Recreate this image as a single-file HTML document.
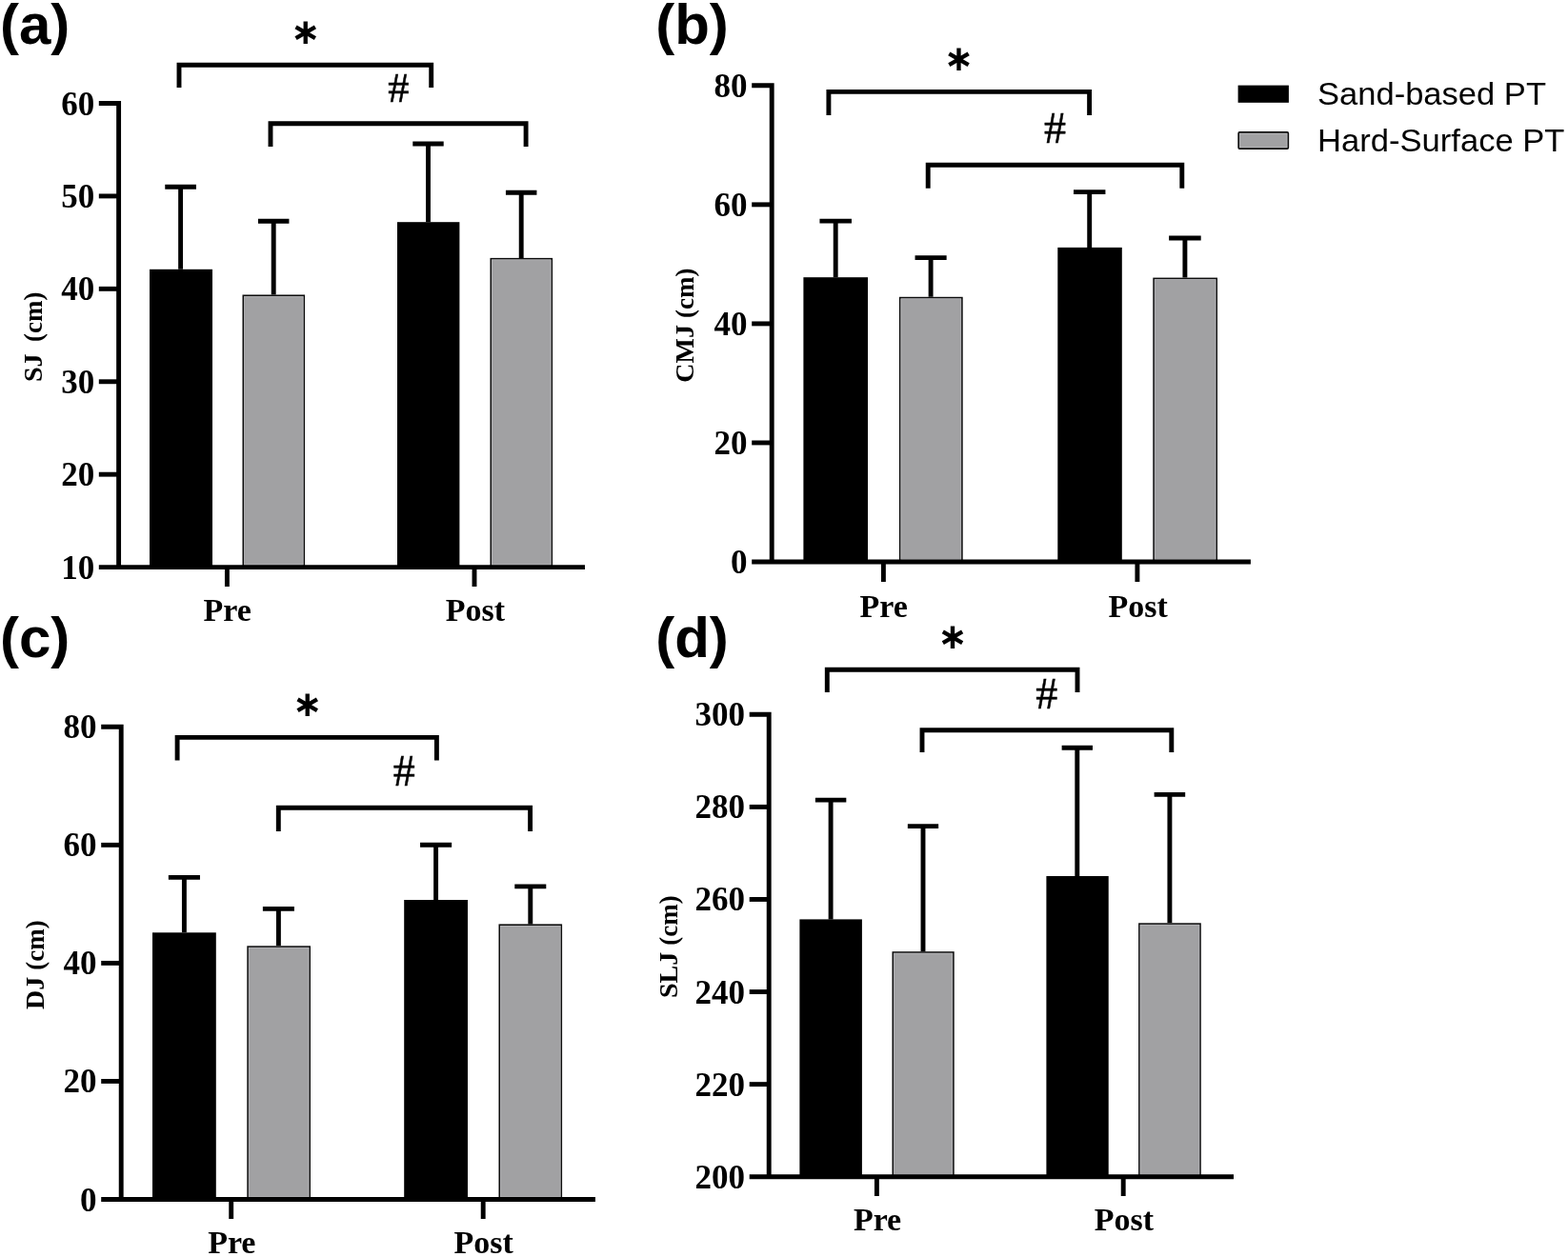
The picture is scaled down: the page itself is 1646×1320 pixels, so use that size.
<!DOCTYPE html>
<html><head><meta charset="utf-8"><title>Figure</title>
<style>
html,body{margin:0;padding:0;background:#fff;}
body{width:1646px;height:1320px;overflow:hidden;}
svg{display:block;}
.ln{fill:none;stroke:#000;stroke-width:4.9;stroke-linejoin:miter;stroke-linecap:butt;}
.plab{font-family:'Liberation Sans', Arial, sans-serif;font-weight:bold;font-size:60px;}
.tick{font-family:'Liberation Serif', 'Times New Roman', serif;font-weight:bold;font-size:35px;text-anchor:end;}
.xlab{font-family:'Liberation Serif', 'Times New Roman', serif;font-weight:bold;font-size:34px;text-anchor:middle;}
.ylab{font-family:'Liberation Serif', 'Times New Roman', serif;font-weight:bold;font-size:28px;text-anchor:middle;}
.cm{font-size:27px;}
.star{font-family:'DejaVu Sans',sans-serif;font-weight:bold;font-size:37.5px;text-anchor:middle;}
.hash{font-family:'Liberation Serif', 'Times New Roman', serif;font-size:46px;text-anchor:middle;stroke:#000;stroke-width:0.5px;}
.leg{font-family:'Liberation Sans', Arial, sans-serif;font-size:33.5px;}
</style></head>
<body>
<svg width="1646" height="1320" viewBox="0 0 1646 1320">
<rect width="1646" height="1320" fill="#fff"/>
<g id="panel-a">
<text x="0" y="46.4" class="plab">(a)</text>
<rect x="157" y="282.8" width="66" height="312.8" fill="#000"/>
<rect x="255.3" y="310.3" width="64" height="285.3" fill="#a1a1a3" stroke="#0d0d0d" stroke-width="1.6"/>
<rect x="256.5" y="311.5" width="61.6" height="281.6" fill="none" stroke="#b4b4b7" stroke-width="0.8"/>
<rect x="417" y="233.2" width="65.4" height="362.4" fill="#000"/>
<rect x="515.3" y="271.7" width="64" height="323.9" fill="#a1a1a3" stroke="#0d0d0d" stroke-width="1.6"/>
<rect x="516.5" y="272.9" width="61.6" height="320.2" fill="none" stroke="#b4b4b7" stroke-width="0.8"/>
<path d="M189.6 282.8V196.2M173.25 196.2H205.95" class="ln"/>
<path d="M287.2 309.5V232.2M270.95 232.2H303.45" class="ln"/>
<path d="M449.5 233.2V151M433.3 151H465.7" class="ln"/>
<path d="M547.2 270.9V202.3M530.95 202.3H563.45" class="ln"/>
<path d="M103.8 108.5H124.6V595.6" class="ln"/>
<path d="M103.8 595.6H614" class="ln"/>
<path d="M103.8 498.18H124.6" class="ln"/>
<path d="M103.8 400.76H124.6" class="ln"/>
<path d="M103.8 303.34H124.6" class="ln"/>
<path d="M103.8 205.92H124.6" class="ln"/>
<text x="99.2" y="607.6" class="tick">10</text>
<text x="99.2" y="510.18" class="tick">20</text>
<text x="99.2" y="412.76" class="tick">30</text>
<text x="99.2" y="315.34" class="tick">40</text>
<text x="99.2" y="217.92" class="tick">50</text>
<text x="99.2" y="120.5" class="tick">60</text>
<path d="M238.4 595.6V616" class="ln"/>
<path d="M498 595.6V616" class="ln"/>
<text x="238.75" y="652" class="xlab">Pre</text>
<text x="498.85" y="652" class="xlab">Post</text>
<path d="M188 92V68.3H452.7V92" class="ln"/>
<path d="M284 154.1V129.8H552.1V154.1" class="ln"/>
<text x="320.7" y="46.44" class="star">&#8727;</text>
<text x="418.25" y="106.7" class="hash" style="font-size:44.5px">#</text>
<text transform="translate(44.3 353.7) rotate(-90)" class="ylab">SJ <tspan dx="5.5" class="cm">(cm)</tspan></text>
</g>
<g id="panel-b">
<text x="688.2" y="46.4" class="plab">(b)</text>
<rect x="843.4" y="291.2" width="67.6" height="298.8" fill="#000"/>
<rect x="944.7" y="312.6" width="65.2" height="277.4" fill="#a1a1a3" stroke="#0d0d0d" stroke-width="1.6"/>
<rect x="945.9" y="313.8" width="62.8" height="273.7" fill="none" stroke="#b4b4b7" stroke-width="0.8"/>
<rect x="1110.3" y="259.9" width="67.5" height="330.1" fill="#000"/>
<rect x="1211.1" y="292.4" width="66.1" height="297.6" fill="#a1a1a3" stroke="#0d0d0d" stroke-width="1.6"/>
<rect x="1212.3" y="293.6" width="63.7" height="293.9" fill="none" stroke="#b4b4b7" stroke-width="0.8"/>
<path d="M877.2 291.2V232.1M860.45 232.1H893.95" class="ln"/>
<path d="M977.1 311.8V270.6M960.55 270.6H993.65" class="ln"/>
<path d="M1143.7 259.9V201.6M1126.98 201.6H1160.42" class="ln"/>
<path d="M1243.9 291.6V250M1227.12 250H1260.68" class="ln"/>
<path d="M789.2 89.8H810.2V590" class="ln"/>
<path d="M789.2 590H1312.9" class="ln"/>
<path d="M789.2 464.95H810.2" class="ln"/>
<path d="M789.2 339.9H810.2" class="ln"/>
<path d="M789.2 214.85H810.2" class="ln"/>
<text x="784.6" y="602" class="tick">0</text>
<text x="784.6" y="476.95" class="tick">20</text>
<text x="784.6" y="351.9" class="tick">40</text>
<text x="784.6" y="226.85" class="tick">60</text>
<text x="784.6" y="101.8" class="tick">80</text>
<path d="M927.4 590V611" class="ln"/>
<path d="M1193.9 590V611" class="ln"/>
<text x="927.75" y="647.5" class="xlab">Pre</text>
<text x="1194.65" y="647.5" class="xlab">Post</text>
<path d="M869.9 120.9V96.4H1143.6V120.9" class="ln"/>
<path d="M974.2 197.8V173.2H1240.8V197.8" class="ln"/>
<text x="1006.5" y="73.94" class="star">&#8727;</text>
<text x="1107.55" y="149.6" class="hash">#</text>
<text transform="translate(727.9 341.6) rotate(-90)" class="ylab">CMJ <tspan dx="0" class="cm">(cm)</tspan></text>
</g>
<g id="panel-c">
<text x="0" y="689.8" class="plab">(c)</text>
<rect x="160" y="979.3" width="66.8" height="280.2" fill="#000"/>
<rect x="260.1" y="994.1" width="65.1" height="265.4" fill="#a1a1a3" stroke="#0d0d0d" stroke-width="1.6"/>
<rect x="261.3" y="995.3" width="62.7" height="261.7" fill="none" stroke="#b4b4b7" stroke-width="0.8"/>
<rect x="424.2" y="945" width="66.8" height="314.5" fill="#000"/>
<rect x="524.3" y="971.2" width="65" height="288.3" fill="#a1a1a3" stroke="#0d0d0d" stroke-width="1.6"/>
<rect x="525.5" y="972.4" width="62.6" height="284.6" fill="none" stroke="#b4b4b7" stroke-width="0.8"/>
<path d="M193.4 979.3V921.4M176.85 921.4H209.95" class="ln"/>
<path d="M292.4 993.3V954.4M275.88 954.4H308.92" class="ln"/>
<path d="M457.6 945V887.3M441.05 887.3H474.15" class="ln"/>
<path d="M556.8 970.4V930.9M540.3 930.9H573.3" class="ln"/>
<path d="M106.2 763.3H127.2V1259.5" class="ln"/>
<path d="M106.2 1259.5H625" class="ln"/>
<path d="M106.2 1135.45H127.2" class="ln"/>
<path d="M106.2 1011.4H127.2" class="ln"/>
<path d="M106.2 887.35H127.2" class="ln"/>
<text x="101.6" y="1271.5" class="tick">0</text>
<text x="101.6" y="1147.45" class="tick">20</text>
<text x="101.6" y="1023.4" class="tick">40</text>
<text x="101.6" y="899.35" class="tick">60</text>
<text x="101.6" y="775.3" class="tick">80</text>
<path d="M242.7 1259.5V1280" class="ln"/>
<path d="M507.2 1259.5V1280" class="ln"/>
<text x="243.3" y="1316.1" class="xlab">Pre</text>
<text x="507.75" y="1316.1" class="xlab">Post</text>
<path d="M186.1 798.5V774.4H458.4V798.5" class="ln"/>
<path d="M292.3 873V848.2H556.6V873" class="ln"/>
<text x="322.8" y="751.74" class="star">&#8727;</text>
<text x="424.3" y="825" class="hash">#</text>
<text transform="translate(45.5 1013.2) rotate(-90)" class="ylab">DJ <tspan dx="0" class="cm">(cm)</tspan></text>
</g>
<g id="panel-d">
<text x="688.2" y="689.8" class="plab">(d)</text>
<rect x="839.4" y="965.4" width="65.5" height="270.3" fill="#000"/>
<rect x="937.3" y="1000" width="63.6" height="235.7" fill="#a1a1a3" stroke="#0d0d0d" stroke-width="1.6"/>
<rect x="938.5" y="1001.2" width="61.2" height="232" fill="none" stroke="#b4b4b7" stroke-width="0.8"/>
<rect x="1098.4" y="920" width="65.3" height="315.7" fill="#000"/>
<rect x="1195.9" y="970.1" width="64.1" height="265.6" fill="#a1a1a3" stroke="#0d0d0d" stroke-width="1.6"/>
<rect x="1197.1" y="971.3" width="61.7" height="261.9" fill="none" stroke="#b4b4b7" stroke-width="0.8"/>
<path d="M872.1 965.4V840.1M855.88 840.1H888.33" class="ln"/>
<path d="M969 999.2V867.6M952.85 867.6H985.15" class="ln"/>
<path d="M1130.8 920V785.3M1114.62 785.3H1146.97" class="ln"/>
<path d="M1227.9 969.3V834.4M1211.62 834.4H1244.18" class="ln"/>
<path d="M786.7 750.3H807.2V1235.7" class="ln"/>
<path d="M786.7 1235.7H1295" class="ln"/>
<path d="M786.7 1138.62H807.2" class="ln"/>
<path d="M786.7 1041.54H807.2" class="ln"/>
<path d="M786.7 944.46H807.2" class="ln"/>
<path d="M786.7 847.38H807.2" class="ln"/>
<text x="782.1" y="1247.7" class="tick">200</text>
<text x="782.1" y="1150.62" class="tick">220</text>
<text x="782.1" y="1053.54" class="tick">240</text>
<text x="782.1" y="956.46" class="tick">260</text>
<text x="782.1" y="859.38" class="tick">280</text>
<text x="782.1" y="762.3" class="tick">300</text>
<path d="M920.4 1235.7V1256" class="ln"/>
<path d="M1179.2 1235.7V1256" class="ln"/>
<text x="921.05" y="1291.6" class="xlab">Pre</text>
<text x="1179.9" y="1291.6" class="xlab">Post</text>
<path d="M868.3 727V703.3H1131V727" class="ln"/>
<path d="M968 790V766.8H1229.8V790" class="ln"/>
<text x="999.9" y="681.44" class="star">&#8727;</text>
<text x="1098.7" y="744" class="hash">#</text>
<text transform="translate(710.5 994.1) rotate(-90)" class="ylab">SLJ <tspan dx="0" class="cm">(cm)</tspan></text>
</g>
<g id="legend">
<rect x="1299.6" y="89.6" width="53.3" height="18.2" fill="#000"/>
<rect x="1300.2" y="138.9" width="52.1" height="17.2" rx="1" fill="#a1a1a3" stroke="#0d0d0d" stroke-width="1.7"/>
<rect x="1301.6" y="140.3" width="49.3" height="14.4" fill="none" stroke="#b8b8bb" stroke-width="0.8"/>
<text x="1383" y="110" class="leg" textLength="240" lengthAdjust="spacingAndGlyphs">Sand-based PT</text>
<text x="1383" y="158.5" class="leg" textLength="259.5" lengthAdjust="spacingAndGlyphs">Hard-Surface PT</text>
</g>
</svg>
</body></html>
